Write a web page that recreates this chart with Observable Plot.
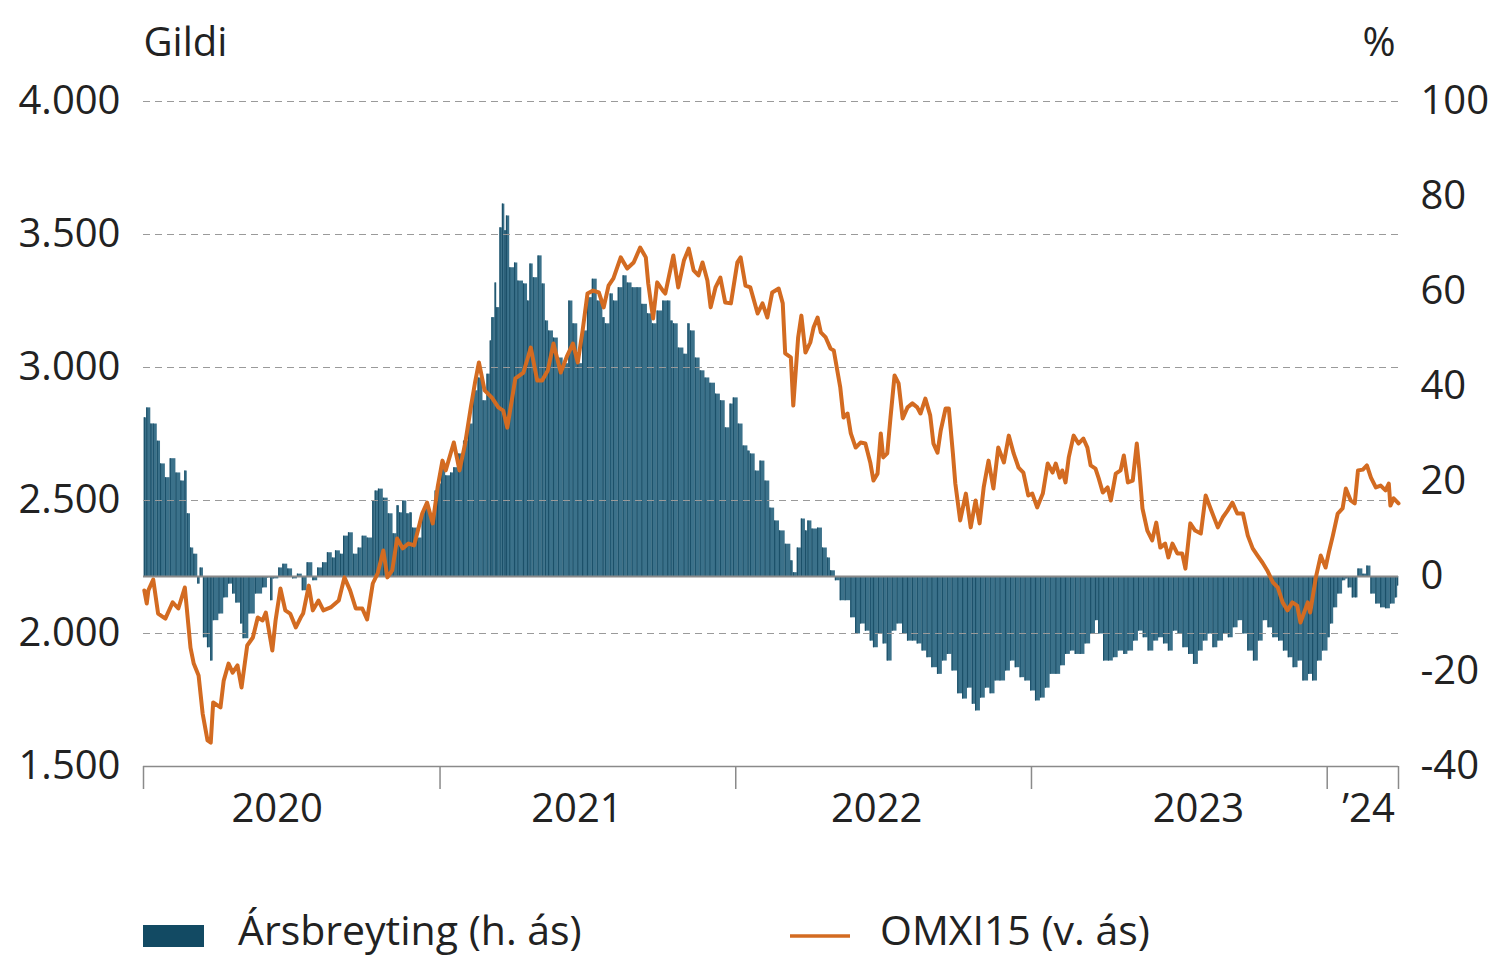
<!DOCTYPE html>
<html>
<head>
<meta charset="utf-8">
<script src="https://cdn.jsdelivr.net/npm/d3@7"></script>
<script src="https://cdn.jsdelivr.net/npm/@observablehq/plot@0.6"></script>
<style>
  html, body { margin: 0; padding: 0; background: #fff; }
  #chart { width: 1496px; }
  svg { display: block; }
</style>
</head>
<body>
<div id="chart"></div>
<script>
// ---- Data ----
// OMXI15 index (left axis, "v. ás")
const omxDates = [
"2020-01-02","2020-01-05","2020-01-07","2020-01-13","2020-01-19","2020-01-28","2020-02-06","2020-02-13","2020-02-21","2020-02-28",
"2020-03-03","2020-03-09","2020-03-14","2020-03-20","2020-03-24","2020-03-27","2020-04-05","2020-04-09","2020-04-15","2020-04-20",
"2020-04-26","2020-05-01","2020-05-08","2020-05-15","2020-05-21","2020-05-27","2020-05-31","2020-06-08","2020-06-12","2020-06-18",
"2020-06-24","2020-06-30","2020-07-07","2020-07-13","2020-07-16","2020-07-23","2020-07-28","2020-08-04","2020-08-10","2020-08-19",
"2020-08-29","2020-09-05","2020-09-12","2020-09-19","2020-09-27","2020-10-03","2020-10-10","2020-10-16","2020-10-23","2020-10-28",
"2020-11-03","2020-11-09","2020-11-16","2020-11-23","2020-11-30","2020-12-10","2020-12-16","2020-12-23","2020-12-29","2021-01-04",
"2021-01-08","2021-01-18","2021-01-25","2021-02-01","2021-02-08","2021-02-13","2021-02-18","2021-02-25","2021-03-06","2021-03-14",
"2021-03-20","2021-03-25","2021-04-04","2021-04-14","2021-04-23","2021-05-01","2021-05-07","2021-05-14","2021-05-21","2021-05-30",
"2021-06-07","2021-06-14","2021-06-20","2021-06-26","2021-07-02","2021-07-09","2021-07-16","2021-07-22","2021-07-28","2021-08-03",
"2021-08-12","2021-08-20","2021-08-28","2021-09-05","2021-09-12","2021-09-15","2021-09-21","2021-09-26","2021-10-03","2021-10-06",
"2021-10-16","2021-10-22","2021-10-29","2021-11-04","2021-11-10","2021-11-16","2021-11-21","2021-11-27","2021-12-01","2021-12-07",
"2021-12-13","2021-12-19","2021-12-26","2022-01-03","2022-01-07","2022-01-13","2022-01-19","2022-01-28","2022-02-03","2022-02-09",
"2022-02-15","2022-02-23","2022-02-28","2022-03-03","2022-03-10","2022-03-13","2022-03-19","2022-03-23","2022-03-28","2022-04-03",
"2022-04-07","2022-04-12","2022-04-16","2022-04-22","2022-04-28","2022-05-02","2022-05-07","2022-05-10","2022-05-14","2022-05-19",
"2022-05-23","2022-05-29","2022-06-04","2022-06-10","2022-06-16","2022-06-20","2022-06-25","2022-06-29","2022-07-02","2022-07-07",
"2022-07-11","2022-07-16","2022-07-21","2022-07-26","2022-08-01","2022-08-07","2022-08-13","2022-08-17","2022-08-23","2022-08-29",
"2022-09-02","2022-09-07","2022-09-11","2022-09-17","2022-09-21","2022-09-26","2022-09-29","2022-10-05","2022-10-12","2022-10-18",
"2022-10-24","2022-10-29","2022-11-03","2022-11-09","2022-11-15","2022-11-21","2022-11-28","2022-12-04","2022-12-10","2022-12-16",
"2022-12-22","2022-12-28","2023-01-02","2023-01-08","2023-01-15","2023-01-21","2023-01-27","2023-01-31","2023-02-05","2023-02-08",
"2023-02-12","2023-02-16","2023-02-22","2023-02-28","2023-03-06","2023-03-11","2023-03-15","2023-03-21","2023-03-25","2023-03-30",
"2023-04-05","2023-04-09","2023-04-15","2023-04-21","2023-04-25","2023-04-30","2023-05-06","2023-05-11","2023-05-14","2023-05-18",
"2023-05-24","2023-05-30","2023-06-04","2023-06-09","2023-06-15","2023-06-19","2023-06-24","2023-06-30","2023-07-06","2023-07-10",
"2023-07-16","2023-07-22","2023-07-29","2023-08-04","2023-08-10","2023-08-19","2023-08-25","2023-08-31","2023-09-06","2023-09-12",
"2023-09-19","2023-09-25","2023-10-01","2023-10-07","2023-10-13","2023-10-19","2023-10-26","2023-11-01","2023-11-07","2023-11-13",
"2023-11-19","2023-11-25","2023-11-29","2023-12-03","2023-12-08","2023-12-11","2023-12-18","2023-12-24","2023-12-30","2024-01-03",
"2024-01-08","2024-01-14","2024-01-20","2024-01-24","2024-01-30","2024-02-04","2024-02-08","2024-02-14","2024-02-19","2024-02-24",
"2024-03-01","2024-03-07","2024-03-13","2024-03-17","2024-03-19","2024-03-23","2024-03-29"
];
const omxValues = [
2162,2113,2162,2203,2075,2056,2117,2094,2173,1947,
1887,1842,1699,1598,1590,1741,1722,1823,1887,1853,
1880,1797,1955,1985,2060,2049,2079,1936,2049,2169,
2087,2075,2023,2060,2075,2180,2087,2124,2087,2098,
2124,2211,2162,2094,2094,2053,2188,2226,2312,2211,
2237,2357,2320,2338,2331,2451,2492,2414,2549,2650,
2613,2718,2613,2714,2850,2940,3019,2914,2887,2850,
2838,2774,2959,2981,3075,2951,2951,2989,3090,2981,
3045,3090,3019,3139,3278,3289,3282,3226,3308,3335,
3414,3372,3395,3451,3414,3316,3184,3320,3289,3278,
3421,3301,3402,3447,3365,3346,3395,3327,3226,3301,
3338,3244,3241,3395,3414,3308,3301,3203,3241,3188,
3282,3297,3241,3053,3038,2857,3113,3195,3056,3094,
3150,3188,3132,3113,3071,3064,2977,2925,2812,2827,
2752,2699,2718,2714,2643,2575,2601,2752,2662,2677,
2812,2970,2940,2808,2850,2865,2850,2827,2883,2820,
2714,2680,2763,2846,2846,2677,2564,2425,2526,2399,
2500,2414,2549,2650,2545,2699,2643,2744,2677,2624,
2605,2519,2526,2474,2526,2639,2605,2639,2586,2613,
2568,2662,2744,2714,2733,2699,2632,2620,2583,2530,
2549,2500,2601,2613,2669,2568,2575,2714,2620,2470,
2387,2350,2417,2323,2338,2286,2338,2301,2301,2244,
2414,2387,2376,2519,2470,2399,2436,2462,2492,2451,
2451,2368,2320,2293,2267,2237,2192,2173,2117,2087,
2117,2105,2041,2075,2117,2079,2211,2293,2248,2305,
2368,2451,2470,2545,2500,2489,2613,2616,2632,2586,
2549,2556,2538,2564,2481,2508,2489
];

// Annual change, % (right axis, "h. ás")
const changeDates = [
"2020-01-02","2020-01-05","2020-01-10","2020-01-13","2020-01-18","2020-01-22","2020-01-28","2020-02-03","2020-02-10","2020-02-16",
"2020-02-21","2020-02-24","2020-02-28","2020-03-03","2020-03-08","2020-03-11","2020-03-15","2020-03-20","2020-03-24","2020-03-27",
"2020-04-03","2020-04-09","2020-04-15","2020-04-20","2020-04-24","2020-04-30","2020-05-03","2020-05-10","2020-05-18","2020-05-27",
"2020-06-02","2020-06-06","2020-06-09","2020-06-16","2020-06-21","2020-06-27","2020-07-03","2020-07-09","2020-07-15","2020-07-21",
"2020-07-28","2020-08-03","2020-08-09","2020-08-15","2020-08-21","2020-08-25","2020-08-31","2020-09-04","2020-09-10","2020-09-16",
"2020-09-22","2020-09-27","2020-10-03","2020-10-10","2020-10-13","2020-10-17","2020-10-23","2020-10-29","2020-11-04","2020-11-09",
"2020-11-12","2020-11-16","2020-11-21","2020-11-25","2020-11-28","2020-12-04","2020-12-10","2020-12-14","2020-12-20","2020-12-26",
"2020-12-29","2021-01-03","2021-01-08","2021-01-14","2021-01-18","2021-01-24","2021-01-30","2021-02-05","2021-02-11","2021-02-17",
"2021-02-23","2021-02-28","2021-03-04","2021-03-06","2021-03-10","2021-03-12","2021-03-16","2021-03-19","2021-03-22","2021-03-24",
"2021-03-28","2021-04-03","2021-04-07","2021-04-14","2021-04-19","2021-04-22","2021-04-26","2021-05-02","2021-05-07","2021-05-11",
"2021-05-15","2021-05-21","2021-05-27","2021-06-02","2021-06-09","2021-06-14","2021-06-20","2021-06-26","2021-07-02","2021-07-08",
"2021-07-14","2021-07-21","2021-07-24","2021-07-30","2021-08-03","2021-08-09","2021-08-15","2021-08-20","2021-08-26","2021-09-01",
"2021-09-07","2021-09-14","2021-09-20","2021-09-26","2021-10-03","2021-10-09","2021-10-13","2021-10-16","2021-10-22","2021-10-29",
"2021-11-03","2021-11-06","2021-11-12","2021-11-18","2021-11-24","2021-11-30","2021-12-07","2021-12-13","2021-12-19","2021-12-25",
"2021-12-29","2022-01-04","2022-01-10","2022-01-16","2022-01-19","2022-01-25","2022-01-31","2022-02-06","2022-02-12","2022-02-18",
"2022-02-24","2022-03-03","2022-03-10","2022-03-13","2022-03-18","2022-03-23","2022-03-28","2022-03-31","2022-04-05","2022-04-12",
"2022-04-18","2022-04-24","2022-04-28","2022-05-04","2022-05-10","2022-05-16","2022-05-23","2022-05-29","2022-06-04","2022-06-10",
"2022-06-16","2022-06-20","2022-06-26","2022-07-02","2022-07-07","2022-07-13","2022-07-19","2022-07-26","2022-08-01","2022-08-07",
"2022-08-13","2022-08-19","2022-08-25","2022-08-31","2022-09-07","2022-09-13","2022-09-19","2022-09-25","2022-10-02","2022-10-08",
"2022-10-14","2022-10-20","2022-10-24","2022-10-30","2022-11-05","2022-11-11","2022-11-17","2022-11-23","2022-11-30","2022-12-06",
"2022-12-12","2022-12-18","2022-12-24","2022-12-31","2023-01-06","2023-01-12","2023-01-18","2023-01-24","2023-01-31","2023-02-06",
"2023-02-12","2023-02-18","2023-02-24","2023-03-02","2023-03-08","2023-03-15","2023-03-21","2023-03-25","2023-03-31","2023-04-06",
"2023-04-12","2023-04-18","2023-04-25","2023-04-30","2023-05-07","2023-05-13","2023-05-19","2023-05-25","2023-06-01","2023-06-07",
"2023-06-13","2023-06-19","2023-06-25","2023-07-01","2023-07-07","2023-07-14","2023-07-20","2023-07-26","2023-08-01","2023-08-07",
"2023-08-13","2023-08-19","2023-08-26","2023-09-01","2023-09-07","2023-09-13","2023-09-19","2023-09-25","2023-10-02","2023-10-08",
"2023-10-14","2023-10-20","2023-10-26","2023-11-02","2023-11-08","2023-11-14","2023-11-20","2023-11-26","2023-12-02","2023-12-09",
"2023-12-14","2023-12-20","2023-12-26","2024-01-02","2024-01-05","2024-01-09","2024-01-14","2024-01-20","2024-01-24","2024-01-27",
"2024-02-01","2024-02-05","2024-02-08","2024-02-14","2024-02-19","2024-02-24","2024-03-01","2024-03-07","2024-03-13","2024-03-19",
"2024-03-25","2024-03-28"
];
const changeValues = [
33.4,35.5,32.1,32.1,28.5,23.7,20.8,24.8,21.8,20.1,
22.2,13.2,6.0,4.7,-1.6,1.8,-12.9,-15.0,-17.8,-9.3,
-7.9,-4.5,-1.6,-3.7,-5.6,-10.0,-13.1,-7.9,-3.7,-2.4,
-0.3,-5.1,-0.5,1.8,2.6,1.6,-0.5,0.5,-3.0,2.9,
-0.9,1.8,2.9,5.0,3.9,5.4,4.7,8.5,9.2,4.7,
6.0,8.5,8.1,15.9,18.0,18.4,16.5,13.2,9.0,14.9,
13.4,15.9,13.2,13.4,10.2,8.1,13.4,14.2,12.5,18.0,
19.5,23.5,21.2,21.8,22.9,25.8,28.5,32.1,39.1,41.8,
37.0,42.6,49.6,54.5,61.8,56.6,73.4,78.4,72.8,75.9,
65.0,66.0,62.2,61.6,58.0,65.8,62.9,67.5,61.6,53.8,
51.7,50.2,46.0,44.8,58.0,53.2,44.8,51.7,58.7,62.6,
58.0,54.5,53.2,59.5,58.0,60.8,63.3,61.8,60.8,60.8,
57.3,55.3,53.2,55.9,58.0,58.0,53.8,53.2,48.1,46.8,
53.2,51.7,46.0,43.3,41.8,40.7,38.4,37.0,31.3,36.3,
37.6,32.1,27.5,26.4,25.8,22.2,24.3,20.1,14.4,11.7,
9.6,6.8,3.3,0.8,6.0,12.1,9.6,11.7,10.0,10.2,
6.0,3.9,1.2,-0.9,-5.1,-5.1,-8.7,-12.1,-10.0,-11.5,
-13.6,-15.0,-12.1,-14.2,-17.8,-11.5,-10.0,-12.1,-13.6,-13.6,
-14.2,-15.7,-17.1,-19.2,-20.6,-17.8,-16.4,-19.9,-24.7,-25.8,
-23.5,-26.9,-28.3,-25.6,-23.5,-24.7,-22.0,-22.0,-19.9,-17.8,
-19.2,-21.3,-22.0,-24.1,-26.2,-25.6,-23.5,-20.6,-20.6,-18.8,
-16.4,-15.7,-16.4,-16.4,-14.2,-12.1,-9.3,-12.1,-17.8,-17.8,
-17.1,-15.7,-16.4,-15.7,-13.6,-11.5,-12.9,-15.7,-13.6,-12.9,
-14.2,-15.7,-11.5,-12.1,-15.0,-16.4,-18.5,-15.7,-13.6,-12.1,
-15.0,-13.6,-12.1,-12.9,-10.8,-9.3,-12.1,-15.7,-17.8,-13.6,
-9.3,-10.8,-12.9,-13.6,-15.7,-17.1,-19.2,-17.8,-22.0,-20.6,
-22.0,-17.8,-15.7,-12.9,-10.0,-6.6,-3.7,-0.9,-0.5,-2.4,
-4.5,-4.5,1.6,0.5,2.2,-3.7,-5.8,-6.6,-6.8,-5.8,
-4.5,-2.0
];

// Axes / labels
const leftTicks = [1500, 2000, 2500, 3000, 3500, 4000];
const gridTicks = [2000, 2500, 3000, 3500, 4000];
const rightTicks = [-40, -20, 0, 20, 40, 60, 80, 100];
const leftDomain = [1500, 4000];
const rightDomain = [-40, 100];
const xStart = "2020-01-01";
const xEnd = "2024-03-29";
const yearBoundaries = ["2020-01-01", "2021-01-01", "2022-01-01", "2023-01-01", "2024-01-01", "2024-03-29"];
const yearLabelDates = ["2020-06-14", "2021-06-19", "2022-06-24", "2023-07-26", "2024-02-21"];
const yearLabels = ["2020", "2021", "2022", "2023", "\u201924"];
const leftTitle = "Gildi";
const rightTitle = "%";
const legendItems = ["Ársbreyting (h. ás)", "OMXI15 (v. ás)"];

// ---- Build ----
const BAR = "#124a63";
const BAR_FILL = "#3b718a";
const BAR_STRIPE = "#1b5069";
const LINE = "#d36b21";
const FONT = "'Open Sans', 'Noto Sans', sans-serif";

const parse = d3.utcParse("%Y-%m-%d");
// map right-axis % onto left-axis value space
const toLeft = p => leftDomain[0] + (p - rightDomain[0]) * (leftDomain[1] - leftDomain[0]) / (rightDomain[1] - rightDomain[0]);
const fromLeft = v => rightDomain[0] + (v - leftDomain[0]) * (rightDomain[1] - rightDomain[0]) / (leftDomain[1] - leftDomain[0]);
const base = toLeft(0);
const endDate = parse(xEnd);

const lineRows = omxDates.map((d, i) => ({date: parse(d), value: omxValues[i]}));
const barRows = changeDates.map((d, i) => ({
  x1: parse(d),
  x2: i < changeDates.length - 1 ? parse(changeDates[i + 1]) : endDate,
  y1: base,
  y2: toLeft(changeValues[i])
}));

const fmt = d3.formatLocale({decimal: ",", thousands: ".", grouping: [3], currency: ["", ""]}).format(",");

const W = 1496, H = 860;
const plot = Plot.plot({
  width: W,
  height: H,
  marginLeft: 143,
  marginRight: 98,
  marginTop: 101,
  marginBottom: 94,
  style: {fontFamily: FONT, fontSize: "40px", color: "#222", background: "transparent", overflow: "visible"},
  x: {type: "utc", domain: [parse(xStart), endDate]},
  y: {domain: leftDomain},
  marks: [
    Plot.rect(barRows, {x1: "x1", x2: "x2", y1: "y1", y2: "y2", fill: BAR_FILL}),
    Plot.ruleX(barRows, {x: "x1", y1: "y1", y2: "y2", stroke: BAR_STRIPE, strokeWidth: 1.2}),
    Plot.ruleY(gridTicks, {stroke: "#9a9a9a", strokeWidth: 1.2, strokeDasharray: "7,5"}),
    Plot.ruleY([base], {stroke: "#8a8a8a", strokeWidth: 2}),
    Plot.line(lineRows, {x: "date", y: "value", stroke: LINE, strokeWidth: 4, strokeLinejoin: "round"}),
    Plot.ruleY([leftDomain[0]], {stroke: "#8a8a8a", strokeWidth: 1.5}),
    Plot.axisY({anchor: "left", ticks: leftTicks, tickSize: 0, tickPadding: 23, tickFormat: fmt, label: null, fill: "#222"}),
    Plot.axisY({anchor: "right", ticks: rightTicks.map(toLeft), tickSize: 0, tickPadding: 22,
      tickFormat: v => String(Math.round(fromLeft(v))), label: null, fill: "#222"}),
    Plot.axisX({ticks: yearBoundaries.map(parse), tickSize: 23, stroke: "#8a8a8a", strokeWidth: 1.5, tickFormat: () => "", label: null}),
    Plot.axisX({ticks: yearLabelDates.map(parse), tickSize: 0, tickPadding: 27,
      tickFormat: (d, i) => yearLabels[i], label: null, fill: "#222"}),
    Plot.text([leftTitle], {frameAnchor: "top-left", text: d => d, textAnchor: "start", lineAnchor: "bottom", dy: -46, fill: "#222"}),
    Plot.text([rightTitle], {frameAnchor: "top-right", text: d => d, textAnchor: "end", lineAnchor: "bottom", dy: -46, dx: -3, fill: "#222"})
  ]
});

const chart = document.getElementById("chart");
chart.appendChild(plot);

// Legend below the chart
const legendH = 958 - H;
const legend = d3.create("svg").attr("width", W).attr("height", legendH)
  .style("font-family", FONT).style("font-size", "41px");
legend.append("rect").attr("x", 143).attr("y", 925 - H).attr("width", 61).attr("height", 22).attr("fill", BAR);
legend.append("text").attr("x", 238).attr("y", 945 - H).attr("fill", "#222").text(legendItems[0]);
legend.append("line").attr("x1", 790).attr("x2", 850).attr("y1", 936 - H).attr("y2", 936 - H)
  .attr("stroke", LINE).attr("stroke-width", 3.5);
legend.append("text").attr("x", 880).attr("y", 945 - H).attr("fill", "#222").text(legendItems[1]);
chart.appendChild(legend.node());
</script>
</body>
</html>
